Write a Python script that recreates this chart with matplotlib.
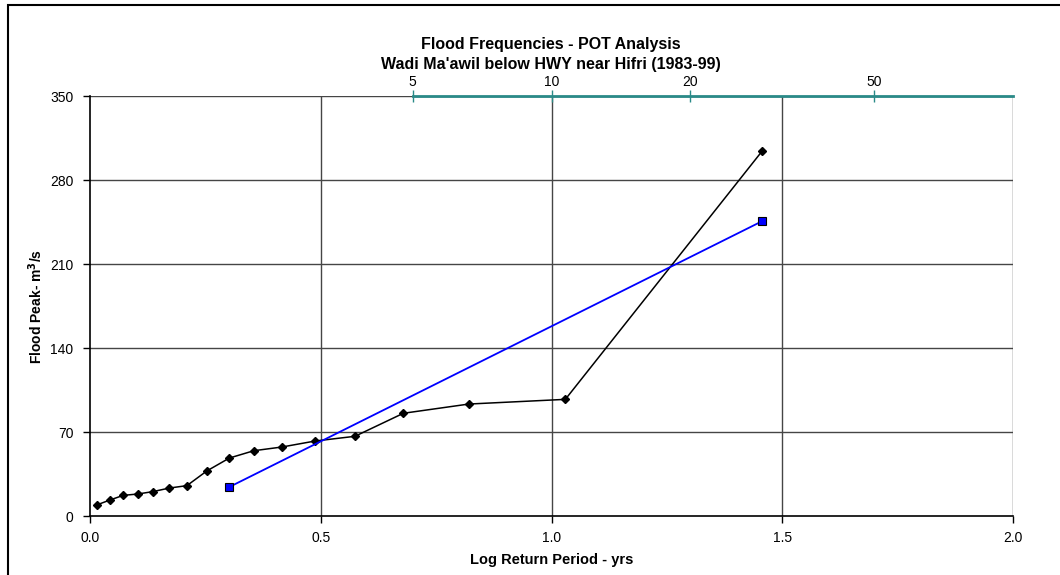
import numpy as np
import matplotlib
matplotlib.use("Agg")
import matplotlib.pyplot as plt
from matplotlib.patches import Rectangle

plt.rcParams['font.family'] = ['Liberation Sans', 'DejaVu Sans']

# Observed POT flood peaks vs log10 return period
log_T_obs = [0.016, 0.043, 0.072, 0.103, 0.136, 0.172, 0.210, 0.253, 0.302,
             0.355, 0.416, 0.488, 0.574, 0.679, 0.821, 1.030, 1.456]
peak_obs = [9.4, 13.3, 17.2, 18.3, 20.3, 23.3, 25.3, 37.5, 48.3,
            54.4, 57.5, 62.5, 66.4, 85.6, 93.3, 97.2, 303.9]

# Fitted frequency line
log_T_fit = [0.302, 1.456]
peak_fit = [24.2, 245.6]

# Axis ticks
x_ticks = [0.0, 0.5, 1.0, 1.5, 2.0]
y_ticks = [0, 70, 140, 210, 280, 350]
top_ticks = [5, 10, 20, 50]

W, H = 1060, 575
fig = plt.figure(figsize=(W / 100, H / 100), dpi=100)
ax = fig.add_axes([90 / W, (H - 516) / H, (1013 - 90) / W, (516 - 96) / H])

grid_c = '#454545'
for v in x_ticks[1:]:
    ax.axvline(v, color=grid_c, lw=1.0, zorder=1)
for v in y_ticks[1:]:
    ax.axhline(v, color=grid_c, lw=1.0, zorder=1)

ax.plot(log_T_obs, peak_obs, color='black', lw=1.1, marker='D', ms=4.5,
        mfc='black', mec='black', zorder=3)
ax.plot(log_T_fit, peak_fit, color='#0000ff', lw=1.3, marker='s', ms=6,
        mfc='#0000ff', mec='black', mew=0.8, zorder=4)

ax.set_xlim(0, 2)
ax.set_ylim(0, 350)
ax.set_xticks(x_ticks)
ax.set_xticklabels([f"{v:.1f}" for v in x_ticks])
ax.set_yticks(y_ticks)
ax.tick_params(axis='both', direction='out', length=5, width=1, labelsize=10,
               colors='black')
ax.tick_params(axis='x', pad=6)
ax.tick_params(axis='y', pad=7)

for s in ['top', 'right']:
    ax.spines[s].set_visible(False)
for s in ['left', 'bottom']:
    ax.spines[s].set_color('black')
    ax.spines[s].set_linewidth(1.2)

# Return-period scale along the top
teal = '#2a8a88'
sec = ax.secondary_xaxis('top', functions=(lambda x: 10 ** x, np.log10))
sec.set_zorder(6)
sec.set_xticks(top_ticks)
sec.set_xticklabels([str(t) for t in top_ticks])
sec.spines['top'].set_color(teal)
sec.spines['top'].set_linewidth(2)
sec.spines['top'].set_bounds(5, 100)
sec.tick_params(axis='x', direction='inout', length=8, width=1,
                color=teal, labelcolor='black', labelsize=10, pad=1)

ax.set_xlabel('Log Return Period - yrs', fontsize=10.5, fontweight='bold')
ax.xaxis.set_label_coords(0.5, -(553 - 516) / 420)
ax.set_ylabel('Flood Peak- m$^\\mathbf{3}$/s', fontsize=10, fontweight='bold')
ax.yaxis.set_label_coords(-(90 - 45) / 923, 0.5)

fig.text(551 / W, 1 - 44 / H, 'Flood Frequencies - POT Analysis',
         ha='center', va='center', fontsize=11.5, fontweight='bold')
fig.text(551 / W, 1 - 64 / H, "Wadi Ma'awil below HWY near Hifri (1983-99)",
         ha='center', va='center', fontsize=11.5, fontweight='bold')

# Outer chart frame
fig.patches.append(Rectangle((8 / W, -0.1), 1.2, 1.1 - 5 / H,
                             transform=fig.transFigure, fill=False,
                             edgecolor='black', lw=1.5))

fig.savefig('out.png', dpi=100)
